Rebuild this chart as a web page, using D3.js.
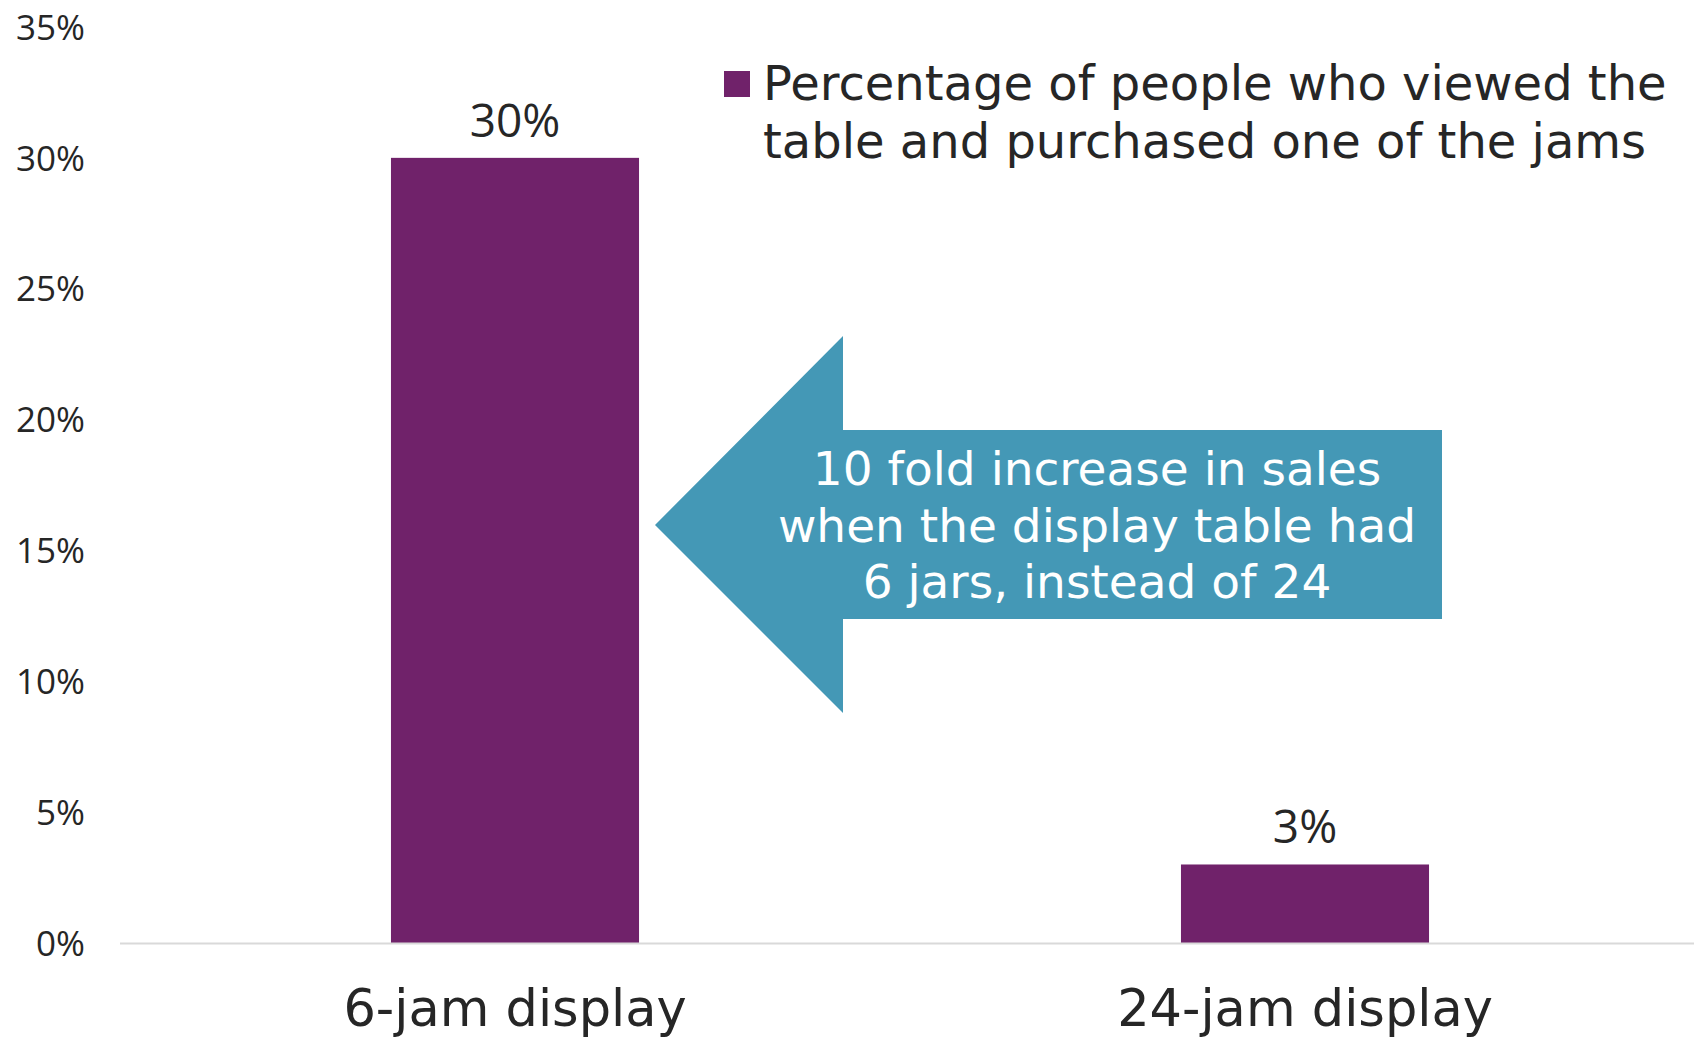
<!DOCTYPE html>
<html>
<head>
<meta charset="utf-8">
<script src="https://cdn.jsdelivr.net/npm/d3@7"></script>
<style>
  html, body { margin: 0; padding: 0; background: #ffffff; }
  svg { display: block; }
  text { font-family: "Open Sans", "DejaVu Sans", sans-serif; }
  .wordy { font-family: "DejaVu Sans", "Open Sans", sans-serif; }
</style>
</head>
<body>
<svg id="chart" width="1694" height="1041"></svg>
<script>
// Jam study: share of shoppers who bought a jar, by display size
const categories = ["6-jam display", "24-jam display"];
const purchaseRates = [0.30, 0.03];
const valueLabels = ["30%", "3%"];
const yTicks = [0, 0.05, 0.10, 0.15, 0.20, 0.25, 0.30, 0.35];
const legendLines = ["Percentage of people who viewed the", "table and purchased one of the jams"];
const calloutLines = ["10 fold increase in sales", "when the display table had", "6 jars, instead of 24"];

const W = 1694, H = 1041;
const plot = { left: 120, right: 1700, top: 27, bottom: 943 };
const barColor = "#70226a";
const arrowColor = "#4498b6";
const textColor = "#262626";

const svg = d3.select("#chart");

const x = d3.scaleBand()
  .domain(categories)
  .range([plot.left, plot.right])
  .paddingInner(0.686)
  .paddingOuter(0.343);

const y = d3.scaleLinear()
  .domain([0, 0.35])
  .range([plot.bottom, plot.top]);

// Y axis: labels only, no line or ticks
const yAxis = d3.axisLeft(y)
  .tickValues(yTicks)
  .tickFormat(d3.format(".0%"))
  .tickSize(0)
  .tickPadding(0);

const yG = svg.append("g")
  .attr("transform", "translate(85,0)")
  .call(yAxis);
yG.select(".domain").remove();
yG.selectAll("text")
  .attr("font-size", 35)
  .attr("fill", textColor)
  .attr("font-family", "'Open Sans', 'DejaVu Sans', sans-serif")
  .attr("dy", "0.35em");

// Bars
const rows = categories.map((c, i) => ({ cat: c, v: purchaseRates[i], label: valueLabels[i] }));

svg.append("g").selectAll("rect")
  .data(rows)
  .join("rect")
  .attr("x", d => x(d.cat))
  .attr("y", d => y(d.v))
  .attr("width", x.bandwidth())
  .attr("height", d => y(0) - y(d.v))
  .attr("fill", barColor);

// Baseline
svg.append("line")
  .attr("x1", plot.left)
  .attr("x2", W)
  .attr("y1", y(0) + 0.5)
  .attr("y2", y(0) + 0.5)
  .attr("stroke", "#d9d9d9")
  .attr("stroke-width", 2);

// Value labels above bars
svg.append("g").selectAll("text")
  .data(rows)
  .join("text")
  .attr("x", d => x(d.cat) + x.bandwidth() / 2)
  .attr("y", d => y(d.v) - 21)
  .attr("text-anchor", "middle")
  .attr("font-size", 46)
  .attr("fill", textColor)
  .text(d => d.label);

// Category axis labels
const xAxis = d3.axisBottom(x).tickSize(0).tickPadding(0);
const xG = svg.append("g")
  .attr("transform", `translate(0,${plot.bottom})`)
  .call(xAxis);
xG.select(".domain").remove();
xG.selectAll("text")
  .attr("class", "wordy")
  .attr("font-size", 51)
  .attr("fill", textColor)
  .attr("font-family", "'DejaVu Sans', 'Open Sans', sans-serif")
  .attr("dy", null)
  .attr("y", 83);

// Legend
const legend = svg.append("g").attr("transform", "translate(724,71)");
legend.append("rect")
  .attr("width", 26)
  .attr("height", 26)
  .attr("fill", barColor);
legend.selectAll("text")
  .data(legendLines)
  .join("text")
  .attr("class", "wordy")
  .attr("x", 39)
  .attr("y", (d, i) => 29 + i * 58)
  .attr("font-size", 48)
  .attr("fill", textColor)
  .text(d => d);

// Callout arrow pointing at the 6-jam bar
const arrow = { tipX: 655, tipY: 525, neckX: 843, headTop: 336, headBottom: 713, shaftTop: 430, shaftBottom: 619, endX: 1442 };
svg.append("path")
  .attr("d", d3.line()([
    [arrow.tipX, arrow.tipY],
    [arrow.neckX, arrow.headTop],
    [arrow.neckX, arrow.shaftTop],
    [arrow.endX, arrow.shaftTop],
    [arrow.endX, arrow.shaftBottom],
    [arrow.neckX, arrow.shaftBottom],
    [arrow.neckX, arrow.headBottom]
  ]) + "Z")
  .attr("fill", arrowColor);

svg.append("g").selectAll("text")
  .data(calloutLines)
  .join("text")
  .attr("class", "wordy")
  .attr("text-anchor", "middle")
  .attr("x", 1097)
  .attr("y", (d, i) => 485 + i * 56.5)
  .attr("font-size", 47)
  .attr("fill", "#ffffff")
  .text(d => d);
</script>
</body>
</html>
